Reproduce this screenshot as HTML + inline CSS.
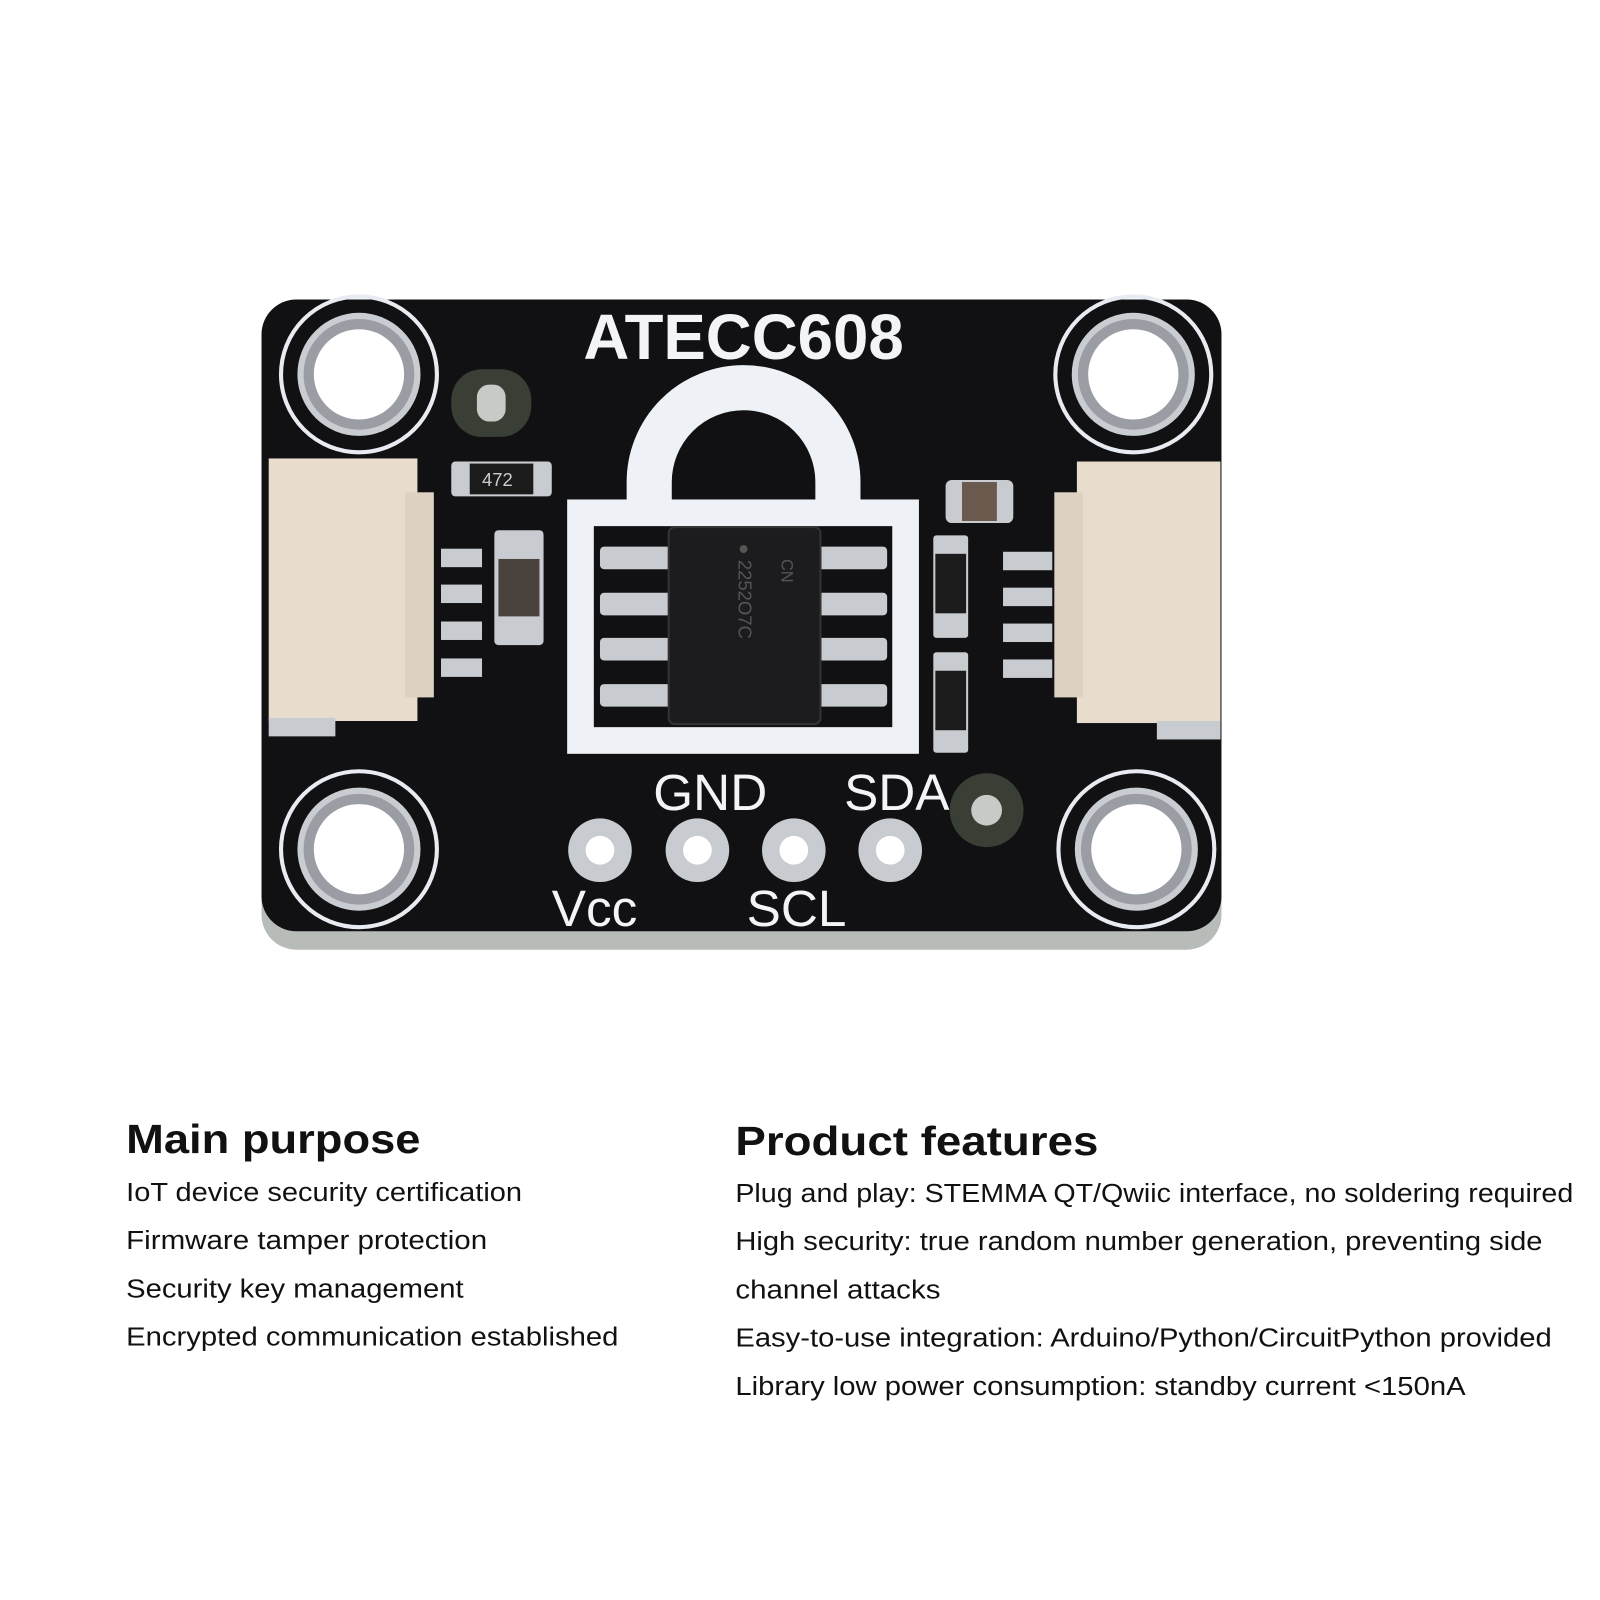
<!DOCTYPE html>
<html><head><style>
html,body{margin:0;padding:0;background:#fff;}
svg{display:block}
</style></head><body>
<svg width="1600" height="1600" viewBox="0 0 1600 1600" xmlns="http://www.w3.org/2000/svg" font-family="Liberation Sans, sans-serif">
<rect width="1600" height="1600" fill="#fff"/>
<g transform="scale(1.0256)">
<!-- board -->
<rect x="255" y="298" width="936" height="628" rx="34" fill="#b8bcb8"/>
<rect x="255" y="292" width="936" height="616" rx="34" fill="#111113"/>
<!-- mounting holes -->
<g>
 <g transform="translate(350,365)"><circle r="76" fill="none" stroke="#e8ecf2" stroke-width="4"/><circle r="60" fill="#c9ccd0"/><circle r="54" fill="#9a9ea4"/><circle r="44" fill="#fff"/></g>
 <g transform="translate(1105,365)"><circle r="76" fill="none" stroke="#e8ecf2" stroke-width="4"/><circle r="60" fill="#c9ccd0"/><circle r="54" fill="#9a9ea4"/><circle r="44" fill="#fff"/></g>
 <g transform="translate(350,828)"><circle r="76" fill="none" stroke="#e8ecf2" stroke-width="4"/><circle r="60" fill="#c9ccd0"/><circle r="54" fill="#9a9ea4"/><circle r="44" fill="#fff"/></g>
 <g transform="translate(1108,828)"><circle r="76" fill="none" stroke="#e8ecf2" stroke-width="4"/><circle r="60" fill="#c9ccd0"/><circle r="54" fill="#9a9ea4"/><circle r="44" fill="#fff"/></g>
</g>
<!-- fiducials -->
<rect x="440" y="360" width="78" height="66" rx="30" fill="#3a3f36"/><rect x="465" y="375" width="28" height="36" rx="12" fill="#c8cac8"/>
<circle cx="962" cy="790" r="36" fill="#3a3f36"/><circle cx="962" cy="790" r="15" fill="#c8cac8"/>
<!-- title -->
<text x="725" y="350" font-size="62" font-weight="bold" fill="#f2f4f8" text-anchor="middle">ATECC608</text>
<!-- lock -->
<path d="M633 492 V470 A92 92 0 0 1 817 470 V492" fill="none" stroke="#eef2f6" stroke-width="44"/>
<rect x="566" y="500" width="317" height="222" fill="none" stroke="#eef2f6" stroke-width="26"/>
<!-- chip pins -->
<g fill="#c8ccd0">
 <rect x="585" y="533" width="70" height="22" rx="4"/><rect x="585" y="578" width="70" height="22" rx="4"/><rect x="585" y="622" width="70" height="22" rx="4"/><rect x="585" y="667" width="70" height="22" rx="4"/>
 <rect x="797" y="533" width="68" height="22" rx="4"/><rect x="797" y="578" width="68" height="22" rx="4"/><rect x="797" y="622" width="68" height="22" rx="4"/><rect x="797" y="667" width="68" height="22" rx="4"/>
</g>
<rect x="652" y="514" width="148" height="192" rx="6" fill="#1c1c1e" stroke="#333" stroke-width="2"/>
<text x="762" y="545" font-size="16" fill="#555" transform="rotate(90 762 545)">CN</text>
<text x="720" y="530" font-size="18" fill="#555" transform="rotate(90 720 530)">● 2252O7C</text>
<!-- left connector -->
<rect x="430" y="535" width="40" height="18" fill="#c8ccd0"/><rect x="430" y="570" width="40" height="18" fill="#c8ccd0"/><rect x="430" y="606" width="40" height="18" fill="#c8ccd0"/><rect x="430" y="642" width="40" height="18" fill="#c8ccd0"/>
<rect x="262" y="447" width="145" height="256" fill="#e8dccd"/>
<rect x="395" y="480" width="28" height="200" fill="#ddd2c2"/>
<rect x="262" y="700" width="65" height="18" fill="#c8ccd0"/>
<!-- right connector -->
<rect x="978" y="538" width="48" height="18" fill="#c8ccd0"/><rect x="978" y="573" width="48" height="18" fill="#c8ccd0"/><rect x="978" y="608" width="48" height="18" fill="#c8ccd0"/><rect x="978" y="643" width="48" height="18" fill="#c8ccd0"/>
<rect x="1050" y="450" width="140" height="255" fill="#e8dccd"/>
<rect x="1028" y="480" width="28" height="200" fill="#ddd2c2"/>
<rect x="1128" y="703" width="62" height="18" fill="#c8ccd0"/>
<!-- small components -->
<rect x="440" y="450" width="98" height="34" rx="4" fill="#c8ccd0"/><rect x="458" y="452" width="62" height="30" fill="#1b1b1b"/>
<text x="470" y="474" font-size="18" fill="#ccc">472</text>
<rect x="482" y="517" width="48" height="112" rx="4" fill="#c8ccd0"/><rect x="486" y="545" width="40" height="56" fill="#4a423c"/>
<rect x="922" y="468" width="66" height="42" rx="6" fill="#c8ccd0"/><rect x="938" y="470" width="34" height="38" fill="#6a5a4e"/>
<rect x="910" y="522" width="34" height="100" rx="3" fill="#c8ccd0"/><rect x="912" y="540" width="30" height="58" fill="#1b1b1b"/>
<rect x="910" y="636" width="34" height="98" rx="3" fill="#c8ccd0"/><rect x="912" y="654" width="30" height="58" fill="#1b1b1b"/>
<!-- pin holes -->
<g>
 <circle cx="585" cy="829" r="31" fill="#c8ccd0"/><circle cx="585" cy="829" r="14" fill="#fff"/>
 <circle cx="680" cy="829" r="31" fill="#c8ccd0"/><circle cx="680" cy="829" r="14" fill="#fff"/>
 <circle cx="774" cy="829" r="31" fill="#c8ccd0"/><circle cx="774" cy="829" r="14" fill="#fff"/>
 <circle cx="868" cy="829" r="31" fill="#c8ccd0"/><circle cx="868" cy="829" r="14" fill="#fff"/>
</g>
<g font-size="50" fill="#f2f4f8">
 <text x="637" y="790">GND</text>
 <text x="823" y="790">SDA</text>
 <text x="538" y="903">Vcc</text>
 <text x="728" y="903">SCL</text>
</g>
<!-- text -->
<g fill="#111" transform="translate(-3,-6)">
 <text x="126" y="1130" font-size="40" font-weight="bold" textLength="287" lengthAdjust="spacingAndGlyphs">Main purpose</text>
 <text x="720" y="1132" font-size="40" font-weight="bold" textLength="354" lengthAdjust="spacingAndGlyphs">Product features</text>
 <g font-size="25">
  <text x="126" y="1177" textLength="386" lengthAdjust="spacingAndGlyphs">IoT device security certification</text>
  <text x="126" y="1224" textLength="352" lengthAdjust="spacingAndGlyphs">Firmware tamper protection</text>
  <text x="126" y="1271" textLength="329" lengthAdjust="spacingAndGlyphs">Security key management</text>
  <text x="126" y="1318" textLength="480" lengthAdjust="spacingAndGlyphs">Encrypted communication established</text>
  <text x="720" y="1178" textLength="817" lengthAdjust="spacingAndGlyphs">Plug and play: STEMMA QT/Qwiic interface, no soldering required</text>
  <text x="720" y="1225" textLength="787" lengthAdjust="spacingAndGlyphs">High security: true random number generation, preventing side</text>
  <text x="720" y="1272" textLength="200" lengthAdjust="spacingAndGlyphs">channel attacks</text>
  <text x="720" y="1319" textLength="796" lengthAdjust="spacingAndGlyphs">Easy-to-use integration: Arduino/Python/CircuitPython provided</text>
  <text x="720" y="1366" textLength="712" lengthAdjust="spacingAndGlyphs">Library low power consumption: standby current &lt;150nA</text>
 </g>
</g>
</g>
</svg>
</body></html>
